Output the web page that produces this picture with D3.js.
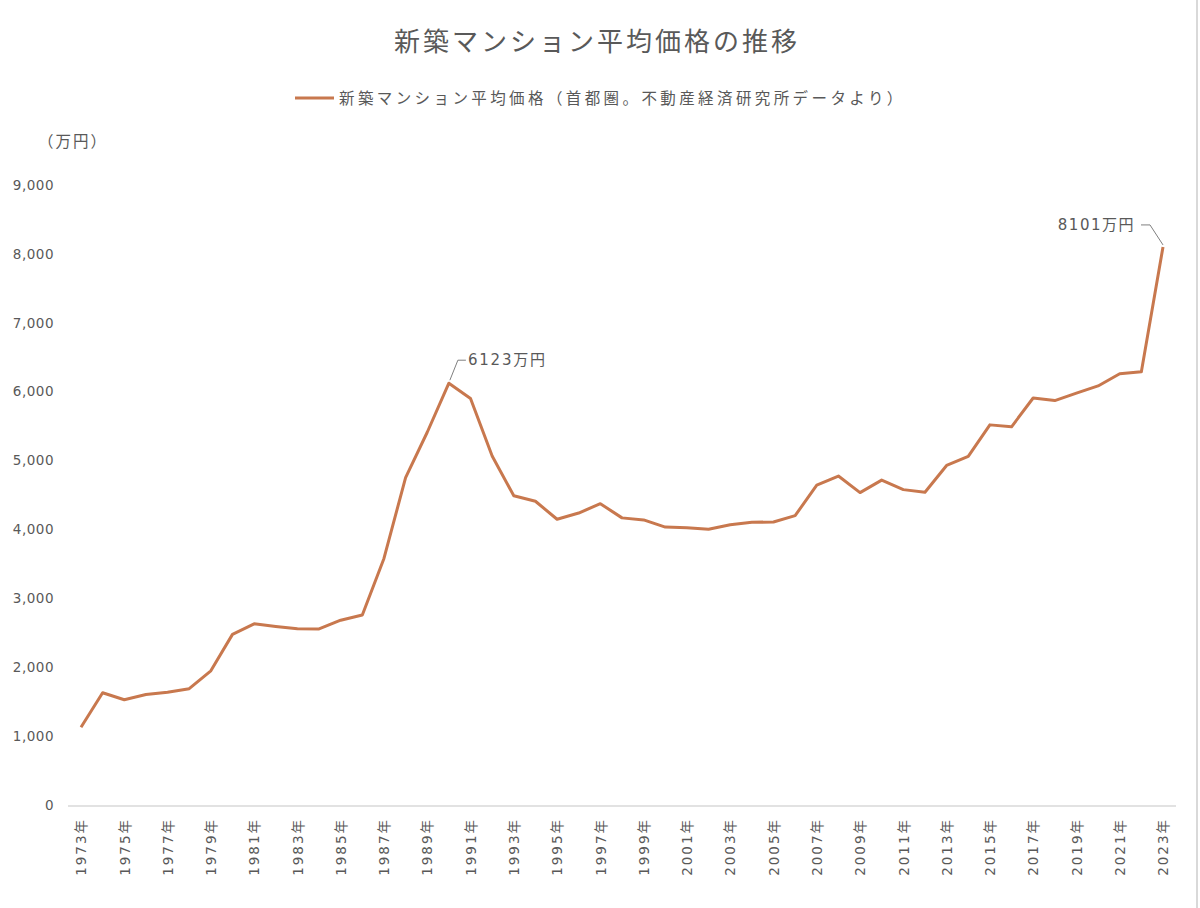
<!DOCTYPE html>
<html>
<head>
<meta charset="utf-8">
<script src="https://cdn.jsdelivr.net/npm/d3@7"></script>
<style>
  body { margin: 0; background: #fff; }
  svg { display: block; font-family: "Noto Sans CJK JP", "Noto Sans", sans-serif; }
</style>
</head>
<body>
<svg id="chart" width="1200" height="908"></svg>
<script>
// 首都圏 新築マンション平均価格（万円）
const years = [
  1973, 1974, 1975, 1976, 1977, 1978, 1979, 1980, 1981, 1982,
  1983, 1984, 1985, 1986, 1987, 1988, 1989, 1990, 1991, 1992,
  1993, 1994, 1995, 1996, 1997, 1998, 1999, 2000, 2001, 2002,
  2003, 2004, 2005, 2006, 2007, 2008, 2009, 2010, 2011, 2012,
  2013, 2014, 2015, 2016, 2017, 2018, 2019, 2020, 2021, 2022, 2023
];
const prices = [
  1129, 1630, 1528, 1604, 1636, 1689, 1948, 2477, 2630, 2592,
  2557, 2556, 2683, 2758, 3579, 4753, 5411, 6123, 5900, 5066,
  4488, 4409, 4148, 4238, 4374, 4168, 4138, 4034, 4026, 4003,
  4069, 4104, 4108, 4200, 4644, 4775, 4535, 4716, 4578, 4540,
  4929, 5060, 5518, 5490, 5908, 5871, 5980, 6083, 6260, 6288, 8101
];
const yTicks = [0, 1000, 2000, 3000, 4000, 5000, 6000, 7000, 8000, 9000];
const xTickYears = years.filter((y, i) => i % 2 === 0);
const labelYears = [1990, 2023];

const title = "新築マンション平均価格の推移";
const seriesName = "新築マンション平均価格（首都圏。不動産経済研究所データより）";
const unit = "（万円）";

const lineColor = "#c8784e";
const textColor = "#595959";
const numFont = "'DejaVu Sans', 'Noto Sans CJK JP', sans-serif";

const svg = d3.select("#chart");

const x = d3.scaleLinear().domain([1973, 2023]).range([81, 1163]);
const y = d3.scaleLinear().domain([0, 9000]).range([805, 185]);

// right frame edge
svg.append("line")
   .attr("x1", 1197).attr("x2", 1197)
   .attr("y1", 0).attr("y2", 908)
   .attr("stroke", "#d9d9d9").attr("stroke-width", 2);

// title
svg.append("text")
   .attr("x", 597).attr("y", 51)
   .attr("text-anchor", "middle")
   .attr("font-size", 26)
   .attr("letter-spacing", 3)
   .attr("fill", textColor)
   .text(title);

// legend
svg.append("line")
   .attr("x1", 295).attr("x2", 334)
   .attr("y1", 98).attr("y2", 98)
   .attr("stroke", lineColor).attr("stroke-width", 3);

svg.append("text")
   .attr("x", 339).attr("y", 104)
   .attr("font-size", 15.5)
   .attr("letter-spacing", 3.4)
   .attr("fill", textColor)
   .text(seriesName);

// unit
svg.append("text")
   .attr("x", 38).attr("y", 147)
   .attr("font-size", 15.5)
   .attr("letter-spacing", 2)
   .attr("fill", textColor)
   .text(unit);

// y axis labels (no line)
const yAxis = d3.axisLeft(y)
    .tickValues(yTicks)
    .tickSize(0)
    .tickPadding(0)
    .tickFormat(d3.format(","));

svg.append("g")
   .attr("transform", "translate(54,0)")
   .call(yAxis)
   .call(g => g.select(".domain").remove())
   .selectAll("text")
   .attr("font-size", 13.5)
   .attr("letter-spacing", 0.5)
   .attr("fill", textColor)
   .attr("font-family", numFont);

// x baseline
svg.append("line")
   .attr("x1", 68).attr("x2", 1176)
   .attr("y1", y(0) + 1).attr("y2", y(0) + 1)
   .attr("stroke", "#d9d9d9").attr("stroke-width", 1.5);

// x labels, rotated
const xAxis = d3.axisBottom(x)
    .tickValues(xTickYears)
    .tickSize(0)
    .tickPadding(0)
    .tickFormat(d => d + "年");

svg.append("g")
   .attr("transform", "translate(0," + (y(0) + 13) + ")")
   .call(xAxis)
   .call(g => g.select(".domain").remove())
   .selectAll("text")
   .attr("font-size", 13.5)
   .attr("letter-spacing", 2)
   .attr("fill", textColor)
   .attr("font-family", numFont)
   .attr("transform", "rotate(-90)")
   .attr("text-anchor", "end")
   .attr("dy", "0.35em")
   .attr("x", 0)
   .attr("y", 0);

// price line
const line = d3.line()
    .x((d, i) => x(years[i]))
    .y(d => y(d));

svg.append("path")
   .datum(prices)
   .attr("fill", "none")
   .attr("stroke", lineColor)
   .attr("stroke-width", 3)
   .attr("stroke-linejoin", "round")
   .attr("d", line);

// data labels with leader lines
const peak = prices[years.indexOf(labelYears[0])];
const px = x(labelYears[0]), py = y(peak);
svg.append("path")
   .attr("d", `M${px + 1},${py - 3} L${px + 9},${py - 23} L${px + 17},${py - 23}`)
   .attr("fill", "none").attr("stroke", "#7f7f7f").attr("stroke-width", 1);
svg.append("text")
   .attr("x", px + 19).attr("y", py - 18)
   .attr("font-size", 15)
   .attr("letter-spacing", 1.8)
   .attr("fill", textColor)
   .attr("font-family", numFont)
   .text(peak + "万円");

const last = prices[years.indexOf(labelYears[1])];
const lx = x(labelYears[1]), ly = y(last);
svg.append("path")
   .attr("d", `M${lx},${ly - 2} L${lx - 13},${ly - 22} L${lx - 22},${ly - 22}`)
   .attr("fill", "none").attr("stroke", "#7f7f7f").attr("stroke-width", 1);
svg.append("text")
   .attr("x", lx - 28).attr("y", ly - 17)
   .attr("text-anchor", "end")
   .attr("font-size", 15)
   .attr("letter-spacing", 1.5)
   .attr("fill", textColor)
   .attr("font-family", numFont)
   .text(last + "万円");
</script>
</body>
</html>
